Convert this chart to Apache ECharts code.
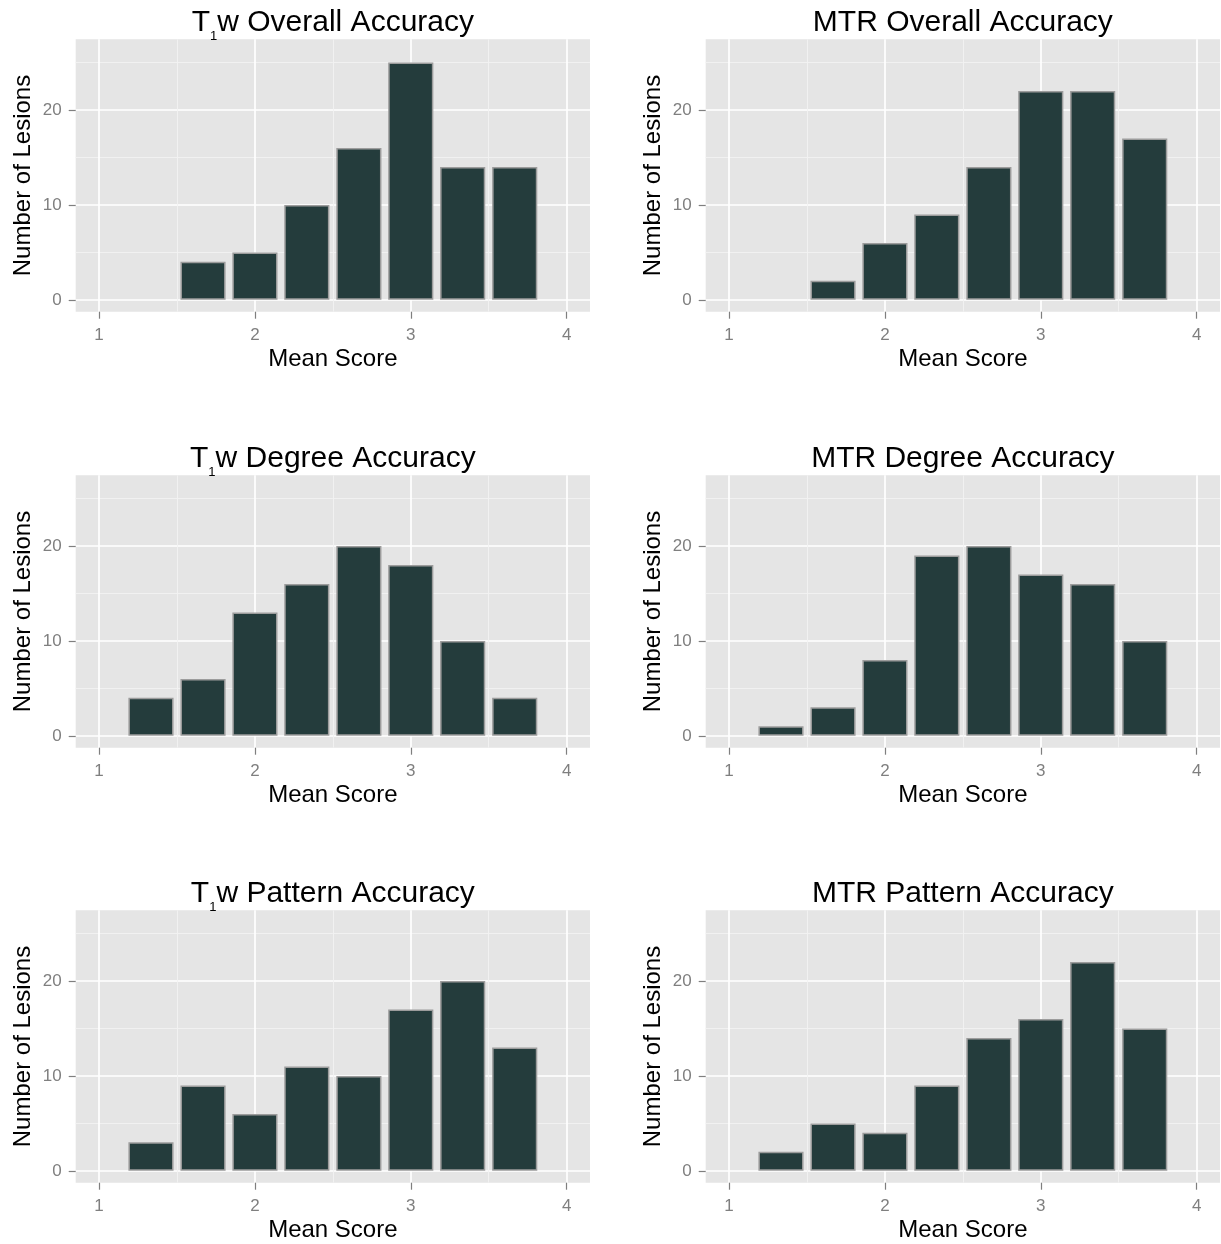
<!DOCTYPE html>
<html><head><meta charset="utf-8">
<script src="https://cdn.jsdelivr.net/npm/echarts@6/dist/echarts.min.js"></script>
<style>html,body{margin:0;padding:0;background:#fff}#c{width:1221px;height:1244px}</style>
</head><body><div id="c"></div>
<script>
// ---- data ----
const binCenters = [1.333, 1.667, 2.0, 2.333, 2.667, 3.0, 3.333, 3.667];
const t1wOverall = [0, 4, 5, 10, 16, 25, 14, 14];
const mtrOverall = [0, 2, 6, 9, 14, 22, 22, 17];
const t1wDegree  = [4, 6, 13, 16, 20, 18, 10, 4];
const mtrDegree  = [1, 3, 8, 19, 20, 17, 16, 10];
const t1wPattern = [3, 9, 6, 11, 10, 17, 20, 13];
const mtrPattern = [2, 5, 4, 9, 14, 16, 22, 15];
const xTickValues = [1, 2, 3, 4];
const yTickValues = [0, 10, 20];
const xAxisTitle = 'Mean Score';
const yAxisTitle = 'Number of Lesions';
const panelTitles = [
  ['T', '1', 'w Overall Accuracy'],
  ['MTR Overall Accuracy'],
  ['T', '1', 'w Degree Accuracy'],
  ['MTR Degree Accuracy'],
  ['T', '1', 'w Pattern Accuracy'],
  ['MTR Pattern Accuracy']
];
const panelCounts = [t1wOverall, mtrOverall, t1wDegree, mtrDegree, t1wPattern, mtrPattern];

// ---- layout / style ----
const FONT = 'Liberation Sans, Arial, Helvetica, sans-serif';
const colLeft = [75.7, 705.7];
const rowTop = [39.3, 475.3, 910.3];
const PW = 514.3, PH = 272.4;
const X_MIN = 0.85, X_MAX = 4.15, Y_MIN = -1.25, Y_MAX = 27.45;
const T = 'rgba(0,0,0,0)';
function cyc(n, idx, color) { const a = new Array(n).fill(T); a[idx] = color; return a; }
const xMajorColors = cyc(20, 3, '#ffffff');
const xMinorColors = cyc(20, 13, '#f2f2f2');
const yMajorColors = cyc(8, 1, '#ffffff');
const yMinorColors = cyc(8, 5, '#f2f2f2');

const grids = [], xAxes = [], yAxes = [], series = [], titles = [];
for (let p = 0; p < 6; p++) {
  const col = p % 2, row = Math.floor(p / 2);
  const left = colLeft[col], top = rowTop[row];
  grids.push({ left, top, width: PW, height: PH, show: true, backgroundColor: '#e5e5e5', borderWidth: 0, containLabel: false });
  const hidden = { axisLine: { show: false, onZero: false }, axisLabel: { show: false }, axisTick: { show: false } };
  // main x
  xAxes.push({
    type: 'value', gridIndex: p, min: X_MIN, max: X_MAX,
    name: xAxisTitle, nameLocation: 'middle', nameGap: 36,
    nameTextStyle: { fontFamily: FONT, fontSize: 24, color: '#000' },
    axisLine: { show: false, onZero: false },
    axisTick: { show: true, customValues: xTickValues, length: 7, lineStyle: { color: '#7f7f7f', width: 1.2 } },
    axisLabel: { customValues: xTickValues, color: '#7f7f7f', fontSize: 17, fontFamily: FONT, margin: 15 },
    splitLine: { show: false }
  });
  xAxes.push(Object.assign({ type: 'value', gridIndex: p, min: X_MIN, max: X_MAX, interval: 0.05,
    splitLine: { show: true, lineStyle: { color: xMajorColors, width: 1.7 } } }, hidden));
  xAxes.push(Object.assign({ type: 'value', gridIndex: p, min: X_MIN, max: X_MAX, interval: 0.05,
    splitLine: { show: true, lineStyle: { color: xMinorColors, width: 0.9 } } }, hidden));
  // main y
  yAxes.push({
    type: 'value', gridIndex: p, min: Y_MIN, max: Y_MAX,
    name: yAxisTitle, nameLocation: 'middle', nameGap: 40, nameRotate: 90,
    nameTextStyle: { fontFamily: FONT, fontSize: 24, color: '#000' },
    axisLine: { show: false, onZero: false },
    axisTick: { show: true, customValues: yTickValues, length: 7, lineStyle: { color: '#7f7f7f', width: 1.2 } },
    axisLabel: { customValues: yTickValues, color: '#7f7f7f', fontSize: 17, fontFamily: FONT, margin: 14 },
    splitLine: { show: false }
  });
  yAxes.push(Object.assign({ type: 'value', gridIndex: p, min: Y_MIN, max: Y_MAX, interval: 1.25,
    splitLine: { show: true, lineStyle: { color: yMajorColors, width: 1.7 } } }, hidden));
  yAxes.push(Object.assign({ type: 'value', gridIndex: p, min: Y_MIN, max: Y_MAX, interval: 1.25,
    splitLine: { show: true, lineStyle: { color: yMinorColors, width: 0.9 } } }, hidden));

  const counts = panelCounts[p];
  const data = [];
  binCenters.forEach((c, i) => { if (counts[i] > 0) data.push([c, counts[i]]); });
  series.push({
    type: 'bar', xAxisIndex: p * 3, yAxisIndex: p * 3, data,
    barWidth: '87%', z: 3, silent: true,
    itemStyle: { color: '#243c3c', borderColor: '#9c9c9c', borderWidth: 1.5 }
  });

  const parts = panelTitles[p];
  const text = parts.length === 3 ? `{m|${parts[0]}}{s|${parts[1]}}{m|${parts[2]}}` : `{m|${parts[0]}}`;
  titles.push({
    text, left: left + PW / 2, top: top - 32, textAlign: 'center', padding: 0,
    textStyle: {
      fontWeight: 'normal',
      rich: {
        m: { fontFamily: FONT, fontSize: 30, fontWeight: 'normal', color: '#000', lineHeight: 30, verticalAlign: 'top' },
        s: { fontFamily: FONT, fontSize: 13, fontWeight: 'normal', color: '#000', lineHeight: 13, verticalAlign: 'top', padding: [23, 0, 0, 0] }
      }
    }
  });
}

const chart = echarts.init(document.getElementById('c'), null, { renderer: 'canvas' });
chart.setOption({
  animation: false, backgroundColor: '#ffffff',
  title: titles, grid: grids, xAxis: xAxes, yAxis: yAxes, series
});
</script></body></html>
